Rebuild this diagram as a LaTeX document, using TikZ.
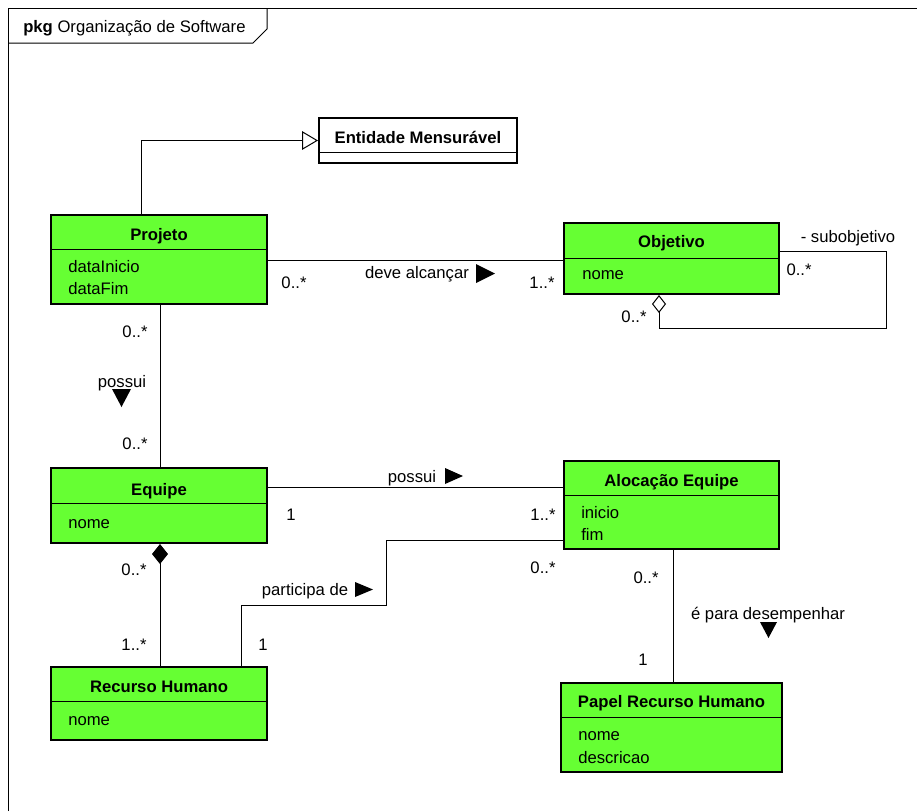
\documentclass[tikz,border=0pt]{standalone}
\usepackage{fontspec}
\setmainfont{Liberation Sans}
\usetikzlibrary{arrows.meta,fit}
\definecolor{umlgreen}{RGB}{102,255,51}
\tikzset{
  classbox/.style={draw, fill=umlgreen, line width=1.5pt, inner sep=0pt},
  classname/.style={anchor=base, inner sep=0pt, font=\fontsize{12.5}{15}\selectfont\bfseries},
  attr/.style={anchor=base west, inner sep=0pt},
  mult/.style={anchor=base, inner sep=0pt},
  assoc/.style={line width=0.75pt},
  divider/.style={line width=0.75pt},
}
\begin{document}
\begin{tikzpicture}[x=0.75pt,y=0.75pt,yscale=-1,xscale=1,font=\fontsize{12.5}{15}\selectfont]
\useasboundingbox (0,0) rectangle (917,811);
% package frame
\draw [line width=0.75pt] (8,811) -- (8,8) -- (917,8);
\draw [line width=0.75pt] (8,43) -- (253,43) -- (267,29) -- (267,8);
\node [anchor=base west, inner sep=0pt] (pkg) at (23,32) {\textbf{pkg} Organização de Software};

% classes
\node [classbox, fill=white, fit={(319,118) (517,163)}] (entidade) {};
\draw [divider] (319,152) -- (517,152);
\node [classname] (entidadeName) at (418,143) {Entidade Mensurável};

\node [classbox, fit={(51,215) (267,304)}] (projeto) {};
\draw [divider] (51,249) -- (267,249);
\node [classname] (projetoName) at (159,240) {Projeto};
\node [attr] (projetoA1) at (68,272) {dataInicio};
\node [attr] (projetoA2) at (68,294) {dataFim};

\node [classbox, fit={(564,223) (779,294)}] (objetivo) {};
\draw [divider] (564,258) -- (779,258);
\node [classname] (objetivoName) at (671.5,247) {Objetivo};
\node [attr] (objetivoA1) at (582,279) {nome};

\node [classbox, fit={(51,468) (267,543)}] (equipe) {};
\draw [divider] (51,503) -- (267,503);
\node [classname] (equipeName) at (159,495) {Equipe};
\node [attr] (equipeA1) at (68,528) {nome};

\node [classbox, fit={(564,461) (779,549)}] (alocacao) {};
\draw [divider] (564,495) -- (779,495);
\node [classname] (alocacaoName) at (671.5,486) {Alocação Equipe};
\node [attr] (alocacaoA1) at (581,518) {inicio};
\node [attr] (alocacaoA2) at (581,540) {fim};

\node [classbox, fit={(51,667) (267,740)}] (recurso) {};
\draw [divider] (51,701) -- (267,701);
\node [classname] (recursoName) at (159,692) {Recurso Humano};
\node [attr] (recursoA1) at (68,725) {nome};

\node [classbox, fit={(561,683) (782,772)}] (papel) {};
\draw [divider] (561,717) -- (782,717);
\node [classname] (papelName) at (671.5,707) {Papel Recurso Humano};
\node [attr] (papelA1) at (578,740) {nome};
\node [attr] (papelA2) at (578,763) {descricao};

% bend points
\coordinate (gen) at (141,141);
\coordinate (alc) at (400,260);
\coordinate (colA) at (160,400);
\coordinate (posY) at (400,487);
\coordinate (partA) at (241,605);
\coordinate (partB) at (386,540);
\coordinate (loopA) at (886,251);
\coordinate (loopB) at (659,328);
\coordinate (colB) at (673,600);

% connectors
\draw [assoc, -{Triangle[open, length=12pt, width=14pt, fill=white]}] (projeto.north -| gen) |- (entidade.west);
\draw [assoc] (projeto.east |- alc) -- (objetivo.west |- alc);
\draw [assoc, {Diamond[open, length=13.5pt, width=10.5pt, fill=white]}-] (objetivo.south -| loopB) -- (loopB) -| (loopA) -- (objetivo.east |- loopA);
\draw [assoc] (projeto.south -| colA) -- (equipe.north -| colA);
\draw [assoc] (equipe.east |- posY) -- (alocacao.west |- posY);
\draw [assoc, {Diamond[length=15pt, width=12pt]}-] (equipe.south -| colA) -- (recurso.north -| colA);
\draw [assoc] (recurso.north -| partA) -- (partA) -| (partB) -- (alocacao.west |- partB);
\draw [assoc] (alocacao.south -| colB) -- (papel.north -| colB);

% labels and multiplicities
\node [mult] (m1) at (294,288) {0..*};
\node [mult] (alcLbl) at (417,278) {deve alcançar};
\fill (476,264) -- (495,273.5) -- (476,283) -- cycle;
\node [mult] (m2) at (542,288) {1..*};

\node [mult] (subLbl) at (848,242) {- subobjetivo};
\node [mult] (m3) at (799,275) {0..*};
\node [mult] (m4) at (634,322) {0..*};

\node [mult] (m5) at (135,337) {0..*};
\node [mult] (possuiLbl) at (122,387) {possui};
\fill (112,389) -- (131,389) -- (121.5,407) -- cycle;
\node [mult] (m6) at (135,449) {0..*};

\node [mult] (possui2Lbl) at (412,482) {possui};
\fill (445,468) -- (463,476) -- (445,484) -- cycle;
\node [mult] (m7) at (291,520) {1};
\node [mult] (m8) at (543,520) {1..*};

\node [mult] (partLbl) at (305,595) {participa de};
\fill (355,582) -- (373,589.5) -- (355,597) -- cycle;
\node [mult] (m9) at (263,650) {1};
\node [mult] (m10) at (543,573) {0..*};

\node [mult] (m11) at (134,575) {0..*};
\node [mult] (m12) at (134,650) {1..*};

\node [mult] (m13) at (646,583) {0..*};
\node [mult] (papelLbl) at (768,619) {é para desempenhar};
\fill (760,622) -- (777,622) -- (768.5,638) -- cycle;
\node [mult] (m14) at (643,665) {1};
\end{tikzpicture}
\end{document}
